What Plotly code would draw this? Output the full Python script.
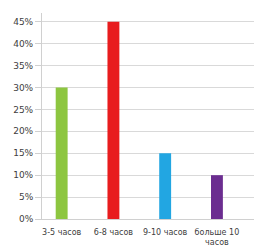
import plotly.graph_objects as go

categories = ["3-5 часов", "6-8 часов", "9-10 часов", "больше 10<br>часов"]
values = [30, 45, 15, 10]
colors = ["#8dc640", "#e81c1e", "#22a6e2", "#6b2d90"]
tick_vals = [0, 5, 10, 15, 20, 25, 30, 35, 40, 45]
tick_text = ["0%", "5%", "10%", "15%", "20%", "25%", "30%", "35%", "40%", "45%"]

fig = go.Figure()
fig.add_trace(go.Bar(
    x=list(range(len(categories))),
    y=values,
    marker=dict(color=colors, line=dict(color=colors, width=0)),
    width=0.23,
))

# page body has an 8px default margin; figure sized to fit the window
fig.update_layout(
    width=254, height=244,
    margin=dict(l=29, r=6, t=5, b=31),
    paper_bgcolor="white", plot_bgcolor="white",
    showlegend=False,
    font=dict(family="DejaVu Sans", size=8, color="#404040"),
    xaxis=dict(
        range=[-0.38, 3.755],
        tickmode="array", tickvals=list(range(len(categories))), ticktext=categories,
        showgrid=False, zeroline=False,
        showline=True, linecolor="#d0d0d0", linewidth=1,
        ticks="", tickfont=dict(size=8, color="#404040"),
        tickangle=0, ticklabelstandoff=5,
    ),
    yaxis=dict(
        range=[0, 47],
        tickmode="array", tickvals=tick_vals, ticktext=tick_text,
        showgrid=True, gridcolor="#d9d9d9", gridwidth=1,
        zeroline=False,
        showline=True, linecolor="#d0d0d0", linewidth=1,
        ticks="outside", ticklen=6, tickcolor="#d0d0d0",
        tickfont=dict(size=9, color="#404040"),
    ),
)

fig.write_html("out.html")
